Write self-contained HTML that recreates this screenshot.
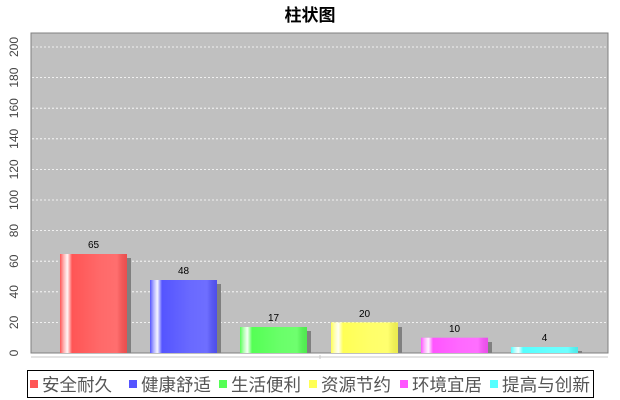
<!DOCTYPE html>
<html><head><meta charset="utf-8"><style>
html,body{margin:0;padding:0;background:#fff;}
svg{display:block;font-family:"Liberation Sans","Noto Sans CJK SC",sans-serif;}
</style></head><body>
<svg width="620" height="400" viewBox="0 0 620 400" xmlns="http://www.w3.org/2000/svg">
<defs>
<linearGradient id="hl" x1="0" x2="1" y1="0" y2="0">
<stop offset="0" stop-color="#fff" stop-opacity="0"/>
<stop offset="0.05" stop-color="#fff" stop-opacity="0.5"/>
<stop offset="0.11" stop-color="#fff" stop-opacity="0.95"/>
<stop offset="0.18" stop-color="#fff" stop-opacity="0"/>
<stop offset="0.6" stop-color="#fff" stop-opacity="0.12"/>
<stop offset="0.85" stop-color="#fff" stop-opacity="0.15"/>
<stop offset="1" stop-color="#000" stop-opacity="0.08"/>
</linearGradient>
</defs>
<text x="310" y="21" text-anchor="middle" font-size="17" font-weight="bold" fill="#000">柱状图</text>
<rect x="31" y="33" width="577" height="320" fill="#c0c0c0" stroke="#808080" stroke-width="1"/>
<g stroke="#fff" stroke-dasharray="2,2" stroke-width="0.8">
<line x1="32" x2="607" y1="322.4" y2="322.4"/><line x1="32" x2="607" y1="291.8" y2="291.8"/>
<line x1="32" x2="607" y1="261.2" y2="261.2"/><line x1="32" x2="607" y1="230.6" y2="230.6"/>
<line x1="32" x2="607" y1="200" y2="200"/><line x1="32" x2="607" y1="169.4" y2="169.4"/>
<line x1="32" x2="607" y1="138.8" y2="138.8"/><line x1="32" x2="607" y1="108.2" y2="108.2"/>
<line x1="32" x2="607" y1="77.6" y2="77.6"/><line x1="32" x2="607" y1="47" y2="47"/>
</g>
<line x1="31" x2="31" y1="33" y2="353" stroke="#808080"/>
<line x1="31" x2="608" y1="357" y2="357" stroke="#c8c8c8"/>
<line x1="320" x2="320" y1="355" y2="359" stroke="#c8c8c8"/>
<g font-size="12" fill="#444" text-anchor="middle">
<text transform="translate(18,353) rotate(-90)">0</text>
<text transform="translate(18,322.4) rotate(-90)">20</text>
<text transform="translate(18,291.8) rotate(-90)">40</text>
<text transform="translate(18,261.2) rotate(-90)">60</text>
<text transform="translate(18,230.6) rotate(-90)">80</text>
<text transform="translate(18,200) rotate(-90)">100</text>
<text transform="translate(18,169.4) rotate(-90)">120</text>
<text transform="translate(18,138.8) rotate(-90)">140</text>
<text transform="translate(18,108.2) rotate(-90)">160</text>
<text transform="translate(18,77.6) rotate(-90)">180</text>
<text transform="translate(18,47) rotate(-90)">200</text>
</g>
<g fill="#808080">
<rect x="64" y="258" width="67" height="95"/>
<rect x="154" y="284" width="67" height="69"/>
<rect x="244" y="331" width="67" height="22"/>
<rect x="335" y="327" width="67" height="26"/>
<rect x="425" y="342" width="67" height="11"/>
<rect x="515" y="351" width="67" height="2"/>
</g>
<rect x="60" y="254" width="67" height="99" fill="#ff5555"/><rect x="60" y="254" width="67" height="99" fill="url(#hl)"/>
<rect x="150" y="280" width="67" height="73" fill="#5555ff"/><rect x="150" y="280" width="67" height="73" fill="url(#hl)"/>
<rect x="240" y="327" width="67" height="26" fill="#55ff55"/><rect x="240" y="327" width="67" height="26" fill="url(#hl)"/>
<rect x="331" y="322.4" width="67" height="30.6" fill="#ffff55"/><rect x="331" y="322.4" width="67" height="30.6" fill="url(#hl)"/>
<rect x="421" y="337.7" width="67" height="15.3" fill="#ff55ff"/><rect x="421" y="337.7" width="67" height="15.3" fill="url(#hl)"/>
<rect x="511" y="347" width="67" height="6" fill="#55ffff"/><rect x="511" y="347" width="67" height="6" fill="url(#hl)"/>
<g font-size="10" fill="#000" text-anchor="middle">
<text x="93.5" y="248">65</text><text x="183.5" y="274">48</text><text x="273.5" y="321">17</text>
<text x="364.5" y="317">20</text><text x="454.5" y="332">10</text><text x="544.5" y="341">4</text>
</g>
<rect x="27.5" y="370.5" width="566" height="27" fill="#fff" stroke="#000"/>
<g font-size="17.5" fill="#555">
<rect x="30" y="380" width="8" height="8" fill="#ff5555"/><text x="42" y="391">安全耐久</text>
<rect x="129" y="380" width="8" height="8" fill="#5555ff"/><text x="141" y="391">健康舒适</text>
<rect x="219" y="380" width="8" height="8" fill="#55ff55"/><text x="231" y="391">生活便利</text>
<rect x="309" y="380" width="8" height="8" fill="#ffff55"/><text x="321" y="391">资源节约</text>
<rect x="400" y="380" width="8" height="8" fill="#ff55ff"/><text x="412" y="391">环境宜居</text>
<rect x="490" y="380" width="8" height="8" fill="#55ffff"/><text x="502" y="391" textLength="88" lengthAdjust="spacingAndGlyphs">提高与创新</text>
</g>
</svg>
</body></html>
